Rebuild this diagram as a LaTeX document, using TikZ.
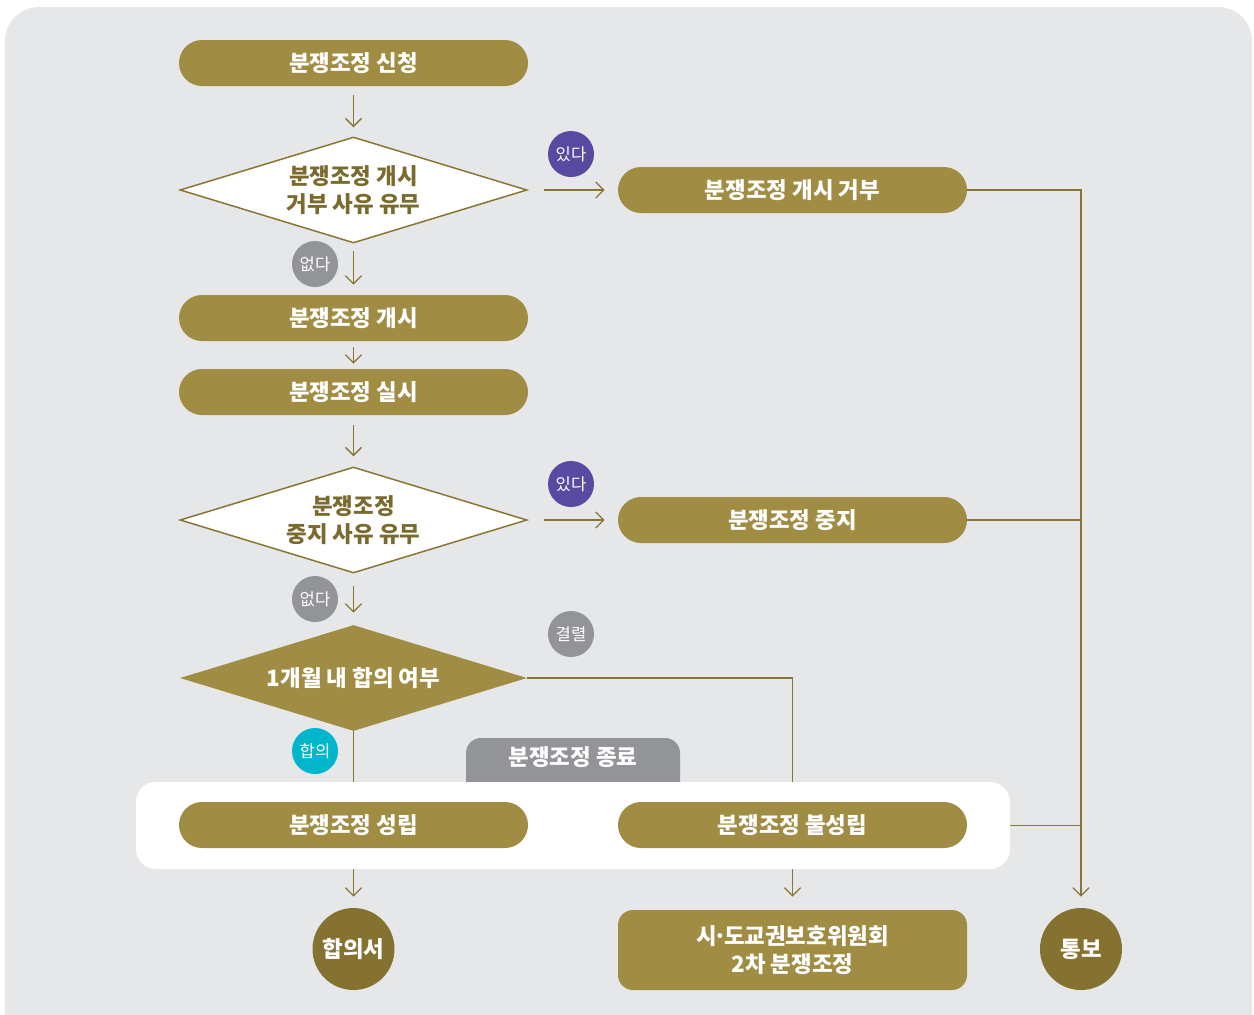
\documentclass[tikz,border=0pt]{standalone}
\usepackage{fontspec}
\setmainfont{Noto Sans CJK KR}
\usetikzlibrary{shapes.geometric,arrows.meta}
\definecolor{bgc}{HTML}{E6E7E9}
\definecolor{gold}{HTML}{A08C43}
\definecolor{darkgold}{HTML}{857231}
\definecolor{linec}{HTML}{8A7535}
\definecolor{diatext}{HTML}{7B6A2E}
\definecolor{purp}{HTML}{574AA0}
\definecolor{greyb}{HTML}{939498}
\definecolor{cyanb}{HTML}{00B6CB}
\pgfdeclarelayer{back}
\pgfdeclarelayer{edges}
\pgfsetlayers{back,edges,main}
\begin{document}
\begin{tikzpicture}[x=0.5pt,y=-0.5pt,
  lbl/.style={font=\fontsize{11.2}{14}\selectfont\bfseries},
  pill/.style={lbl, fill=gold, rounded corners=11.5pt, minimum width=174.5pt, minimum height=23pt, inner sep=0pt, text=white},
  dia/.style={lbl, diamond, minimum width=173.5pt, minimum height=53pt, inner sep=0pt, shape aspect=3.27, align=center},
  badge/.style={circle, minimum size=23pt, inner sep=0pt, text=white, font=\fontsize{8.3}{9}\selectfont},
  endc/.style={lbl, circle, fill=darkgold, minimum size=41pt, inner sep=0pt, text=white},
  con/.style={draw=linec, line width=0.65pt},
  arr/.style={con, -{Straight Barb[length=4pt,width=8pt]}}]
\useasboundingbox (0,0) rectangle (1254,1014);
\begin{pgfonlayer}{back}
  \fill[bgc, rounded corners=17pt] (5,7) rectangle (1252,1060);
\end{pgfonlayer}

% gray tab behind panel
\fill[greyb, rounded corners=7.5pt] (466,800) |- (680,738) -- (680,800);
\node (tab) [lbl, text=white] at (573,757) {분쟁조정 종료};
% white panel
\node (panel) [fill=white, rounded corners=10pt, minimum width=437pt, minimum height=43.5pt, inner sep=0pt] at (573,825.5) {};

% left column
\node (apply) [pill] at (353.5,63) {분쟁조정 신청};
\node (d1) [dia, draw=linec, line width=0.75pt, fill=white, text=diatext] at (353.5,190) {분쟁조정 개시\\거부 사유 유무};
\node (start) [pill] at (353.5,318) {분쟁조정 개시};
\node (run) [pill] at (353.5,392) {분쟁조정 실시};
\node (d2) [dia, draw=linec, line width=0.75pt, fill=white, text=diatext] at (353.5,520) {분쟁조정\\중지 사유 유무};
\node (d3) [dia, fill=gold, text=white] at (353.5,678) {1개월 내 합의 여부};
\node (ok) [pill] at (353.5,825) {분쟁조정 성립};
\node (doc) [endc] at (353.5,949) {합의서};

% right column
\node (refuse) [pill] at (792.5,190) {분쟁조정 개시 거부};
\node (stop) [pill] at (792.5,520) {분쟁조정 중지};
\node (fail) [pill] at (792.5,825) {분쟁조정 불성립};
\node (second) [lbl, fill=gold, rounded corners=7.5pt, minimum width=174.5pt, minimum height=40pt, inner sep=0pt, text=white, align=center] at (792.5,950) {시\kern-1.6pt·\kern-1.6pt도교권보호위원회\\2차 분쟁조정};
\node (notify) [endc] at (1081,949) {통보};

% badges
\node (yes1) [badge, fill=purp] at (571,154) {있다};
\node (no1) [badge, fill=greyb] at (315,264) {없다};
\node (yes2) [badge, fill=purp] at (571,484) {있다};
\node (no2) [badge, fill=greyb] at (315,599) {없다};
\node (brk) [badge, fill=greyb] at (571,634) {결렬};
\node (agr) [badge, fill=cyanb] at (315,751) {합의};

\begin{pgfonlayer}{edges}
  \draw[arr, shorten <=4.5pt, shorten >=4.5pt] (apply) -- (d1);
  \draw[arr, shorten <=8pt, shorten >=6.5pt] (d1.east) -- (refuse.west);
  \draw[arr, shorten <=3.5pt, shorten >=5pt] (d1.south) -- (start.north);
  \draw[arr, shorten <=3pt, shorten >=2.5pt] (start) -- (run);
  \draw[arr, shorten <=5pt, shorten >=5pt] (run) -- (d2);
  \draw[arr, shorten <=8pt, shorten >=6.5pt] (d2.east) -- (stop.west);
  \draw[arr, shorten <=6pt, shorten >=6pt] (d2.south) -- (d3.north);
  \draw[con] (d3.south) -- (ok.north);
  \draw[con] (d3.east) -| (fail.north);
  \draw[arr, shorten >=5.5pt] (ok.south) -- (doc.north);
  \draw[arr, shorten >=6.5pt] (fail.south) -- (second.north);
  \draw[arr, shorten >=5.5pt] (refuse.east) -| (notify.north);
  \draw[con] (stop.east) -- (stop.east -| notify.north);
  \draw[con] (panel.east) -- (panel.east -| notify.north);
\end{pgfonlayer}
\end{tikzpicture}
\end{document}
